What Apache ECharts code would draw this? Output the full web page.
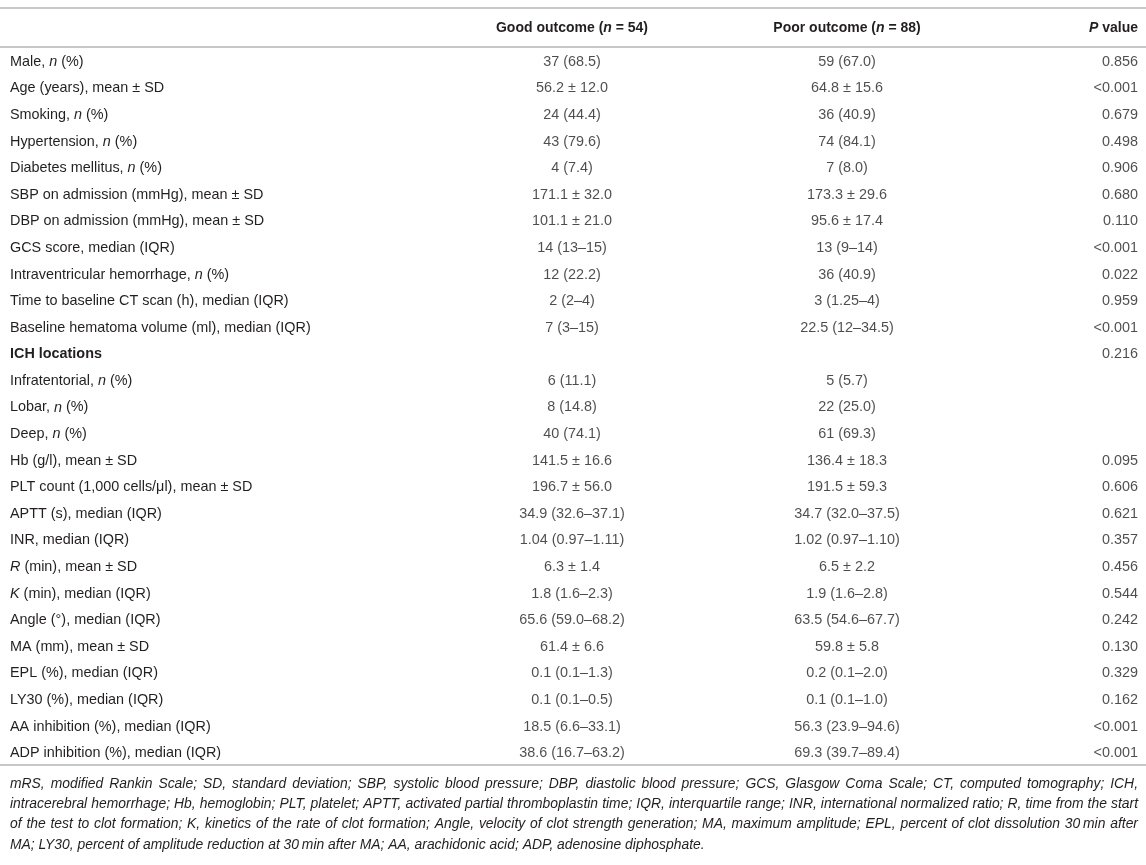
<!DOCTYPE html>
<html>
<head>
<meta charset="utf-8">
<script src="https://cdn.jsdelivr.net/npm/echarts@6/dist/echarts.min.js"></script>
<style>
  html, body { margin: 0; padding: 0; background: #fff; }
  #main { width: 1146px; height: 865px; }
</style>
</head>
<body>
<div id="main"></div>
<script>
// row labels ({i|..} = italic, {b|..} = bold)
const rowLabels = [
  'Male, {i|n} (%)',
  'Age (years), mean ± SD',
  'Smoking, {i|n} (%)',
  'Hypertension, {i|n} (%)',
  'Diabetes mellitus, {i|n} (%)',
  'SBP on admission (mmHg), mean ± SD',
  'DBP on admission (mmHg), mean ± SD',
  'GCS score, median (IQR)',
  'Intraventricular hemorrhage, {i|n} (%)',
  'Time to baseline CT scan (h), median (IQR)',
  'Baseline hematoma volume (ml), median (IQR)',
  '{b|ICH locations}',
  'Infratentorial, {i|n} (%)',
  'Lobar, {i|n} (%)',
  'Deep, {i|n} (%)',
  'Hb (g/l), mean ± SD',
  'PLT count (1,000 cells/μl), mean ± SD',
  'APTT (s), median (IQR)',
  'INR, median (IQR)',
  '{i|R} (min), mean ± SD',
  '{i|K} (min), median (IQR)',
  'Angle (°), median (IQR)',
  'MA (mm), mean ± SD',
  'EPL (%), median (IQR)',
  'LY30 (%), median (IQR)',
  'AA inhibition (%), median (IQR)',
  'ADP inhibition (%), median (IQR)'
];

const goodValues = [
  '37 (68.5)', '56.2 ± 12.0', '24 (44.4)', '43 (79.6)', '4 (7.4)',
  '171.1 ± 32.0', '101.1 ± 21.0', '14 (13–15)', '12 (22.2)', '2 (2–4)',
  '7 (3–15)', '', '6 (11.1)', '8 (14.8)', '40 (74.1)',
  '141.5 ± 16.6', '196.7 ± 56.0', '34.9 (32.6–37.1)', '1.04 (0.97–1.11)', '6.3 ± 1.4',
  '1.8 (1.6–2.3)', '65.6 (59.0–68.2)', '61.4 ± 6.6', '0.1 (0.1–1.3)', '0.1 (0.1–0.5)',
  '18.5 (6.6–33.1)', '38.6 (16.7–63.2)'
];

const poorValues = [
  '59 (67.0)', '64.8 ± 15.6', '36 (40.9)', '74 (84.1)', '7 (8.0)',
  '173.3 ± 29.6', '95.6 ± 17.4', '13 (9–14)', '36 (40.9)', '3 (1.25–4)',
  '22.5 (12–34.5)', '', '5 (5.7)', '22 (25.0)', '61 (69.3)',
  '136.4 ± 18.3', '191.5 ± 59.3', '34.7 (32.0–37.5)', '1.02 (0.97–1.10)', '6.5 ± 2.2',
  '1.9 (1.6–2.8)', '63.5 (54.6–67.7)', '59.8 ± 5.8', '0.2 (0.1–2.0)', '0.1 (0.1–1.0)',
  '56.3 (23.9–94.6)', '69.3 (39.7–89.4)'
];

const pValues = [
  '0.856', '<0.001', '0.679', '0.498', '0.906',
  '0.680', '0.110', '<0.001', '0.022', '0.959',
  '<0.001', '0.216', '', '', '',
  '0.095', '0.606', '0.621', '0.357', '0.456',
  '0.544', '0.242', '0.130', '0.329', '0.162',
  '<0.001', '<0.001'
];

const headers = ['Good outcome ({i|n} = 54)', 'Poor outcome ({i|n} = 88)', '{i|P} value'];

const footnoteLines = [
  'mRS, modified Rankin Scale; SD, standard deviation; SBP, systolic blood pressure; DBP, diastolic blood pressure; GCS, Glasgow Coma Scale; CT, computed tomography; ICH,',
  'intracerebral hemorrhage; Hb, hemoglobin; PLT, platelet; APTT, activated partial thromboplastin time; IQR, interquartile range; INR, international normalized ratio; R, time from the start',
  'of the test to clot formation; K, kinetics of the rate of clot formation; Angle, velocity of clot strength generation; MA, maximum amplitude; EPL, percent of clot dissolution 30\u2009min after',
  'MA; LY30, percent of amplitude reduction at 30\u2009min after MA; AA, arachidonic acid; ADP, adenosine diphosphate.'
];

const FONT = '"Liberation Sans", Arial, Helvetica, sans-serif';
const TEXT = '#231f20';
const RULE = '#b4b4b4';
const BODY_SIZE = 14.4;
const FOOT_FONT = 'italic 13.9px ' + FONT;
// column anchors on the hidden x scale (0..1146)
const GOOD_X = 572, POOR_X = 847, P_X = 1138;
const RULE_TOP = 8, RULE_HEAD = 47, RULE_BOTTOM = 765;

const chart = echarts.init(document.getElementById('main'), null, {renderer: 'canvas'});

const rich = {
  i: {fontStyle: 'italic', fontFamily: FONT, fontSize: BODY_SIZE, color: TEXT},
  b: {fontWeight: 'bold', fontFamily: FONT, fontSize: BODY_SIZE, color: TEXT}
};
const headRich = {
  i: {fontStyle: 'italic', fontWeight: 'bold', fontFamily: FONT, fontSize: 14, color: TEXT}
};

function colSeries(x, values, align) {
  return {
    type: 'scatter',
    silent: true,
    symbolSize: 1,
    itemStyle: {color: 'rgba(0,0,0,0)'},
    data: values.map((v, i) => [x, i]),
    label: {
      show: true,
      position: 'inside',
      align: align,
      verticalAlign: 'middle',
      formatter: p => values[p.dataIndex],
      fontFamily: FONT,
      fontSize: BODY_SIZE,
      color: TEXT
    }
  };
}

function headText(x, text, align) {
  return {
    type: 'text', x: x, y: 28,
    style: {text: text, rich: headRich, font: 'bold 14px ' + FONT, fill: TEXT, textAlign: align, textVerticalAlign: 'middle'}
  };
}

function hRule(y) {
  return {type: 'line', shape: {x1: 0, y1: y, x2: 1146, y2: y}, style: {stroke: RULE, lineWidth: 1.5}};
}

const graphics = [
  hRule(RULE_TOP), hRule(RULE_HEAD), hRule(RULE_BOTTOM),
  headText(GOOD_X, headers[0], 'center'),
  headText(POOR_X, headers[1], 'center'),
  headText(P_X, headers[2], 'right')
];

// footnote: justified between x=10 and x=1138, last line left aligned
const ctx = document.createElement('canvas').getContext('2d');
ctx.font = FOOT_FONT;
const FOOT_L = 10, FOOT_R = 1138;
footnoteLines.forEach((line, k) => {
  const y = 784 + k * 20.3;
  const words = line.split(' ');
  const widths = words.map(w => ctx.measureText(w).width);
  const total = widths.reduce((a, b) => a + b, 0);
  const last = k === footnoteLines.length - 1;
  const gap = last ? ctx.measureText(' ').width : (FOOT_R - FOOT_L - total) / (words.length - 1);
  let x = FOOT_L;
  words.forEach((w, j) => {
    graphics.push({
      type: 'text', x: x, y: y, silent: true,
      style: {text: w, font: FOOT_FONT, fill: TEXT, textAlign: 'left', textVerticalAlign: 'middle'}
    });
    x += widths[j] + gap;
  });
});

chart.setOption({
  animation: false,
  backgroundColor: '#fff',
  grid: {left: 0, right: 0, top: RULE_HEAD + 1.5, height: RULE_BOTTOM - RULE_HEAD},
  xAxis: {type: 'value', min: 0, max: 1146, show: false},
  yAxis: {
    type: 'category',
    inverse: true,
    data: rowLabels,
    axisLine: {show: false},
    axisTick: {show: false},
    splitLine: {show: false},
    axisLabel: {
      inside: true,
      margin: 10,
      fontFamily: FONT,
      fontSize: BODY_SIZE,
      color: TEXT,
      rich: rich
    }
  },
  series: [
    colSeries(GOOD_X, goodValues, 'center'),
    colSeries(POOR_X, poorValues, 'center'),
    colSeries(P_X, pValues, 'right')
  ],
  graphic: graphics
});
</script>
</body>
</html>
